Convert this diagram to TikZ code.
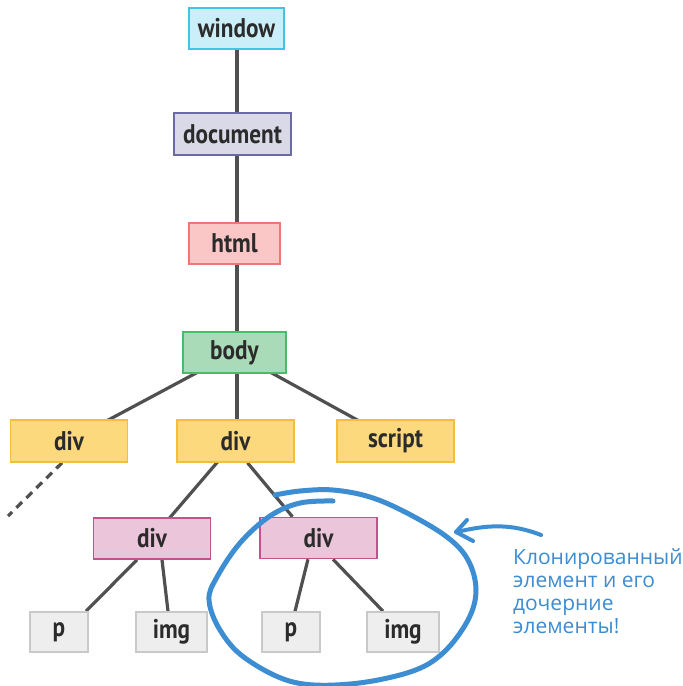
\documentclass[tikz,border=0pt]{standalone}
\usepackage{fontspec}
\setmainfont{PT Sans}
\newfontfamily\boxfont{PT Sans}[FakeStretch=0.86]
\newfontfamily\notefont{Open Sans}
\usetikzlibrary{backgrounds,calc}

\definecolor{winfill}{HTML}{CBEFF9}\definecolor{windraw}{HTML}{41C5E6}
\definecolor{docfill}{HTML}{D9D9E8}\definecolor{docdraw}{HTML}{6B6BA3}
\definecolor{htmlfill}{HTML}{FBC6C6}\definecolor{htmldraw}{HTML}{F07575}
\definecolor{bodyfill}{HTML}{A9DBB9}\definecolor{bodydraw}{HTML}{4DBA6A}
\definecolor{yfill}{HTML}{FCD97C}\definecolor{ydraw}{HTML}{F2BE3C}
\definecolor{pkfill}{HTML}{EBC6DA}\definecolor{pkdraw}{HTML}{C4518D}
\definecolor{gfill}{HTML}{EEEEEE}\definecolor{gdraw}{HTML}{C9C9C9}
\definecolor{edgecol}{HTML}{505050}
\definecolor{notecol}{HTML}{3C8DD2}
\definecolor{textcol}{HTML}{2B2B2B}

\tikzset{
  box/.style={draw, line width=1.6pt, minimum height=41pt, inner sep=0pt,
    font=\boxfont\fontsize{27}{30}\selectfont\bfseries, text=textcol},
  winbox/.style={box, fill=winfill, draw=windraw},
  docbox/.style={box, fill=docfill, draw=docdraw},
  htmlbox/.style={box, fill=htmlfill, draw=htmldraw},
  bodybox/.style={box, fill=bodyfill, draw=bodydraw},
  ybox/.style={box, fill=yfill, draw=ydraw, minimum width=117pt, minimum height=42pt},
  pkbox/.style={box, fill=pkfill, draw=pkdraw, minimum width=117pt},
  gbox/.style={box, fill=gfill, draw=gdraw, minimum height=40pt},
  edge/.style={draw=edgecol, line width=3.2pt},
  note/.style={draw=notecol, line width=5pt, line cap=round, line join=round},
}

\begin{document}
\begin{tikzpicture}[x=1pt, y=-1pt]
  \useasboundingbox (0,0) rectangle (683,686);

  % DOM tree nodes
  \node[winbox, minimum width=95pt] (window) at (236.5,28.5) {window};
  \node[docbox, minimum width=117pt, minimum height=42pt] (document) at (232.5,134) {document};
  \node[htmlbox, minimum width=91pt] (html) at (234.5,243.5) {html};
  \node[bodybox, minimum width=103pt] (body) at (234.5,352.5) {body};
  \node[ybox] (divA) at (69,441) {div};
  \node[ybox] (divB) at (235.5,441) {div};
  \node[ybox] (script) at (395.5,441) {script};
  \node[pkbox] (divC) at (152,538.5) {div};
  \node[pkbox] (divD) at (318.5,538) {div};
  \node[gbox, minimum width=58pt] (pA) at (59,632) {p};
  \node[gbox, minimum width=71pt] (imgA) at (171.5,632) {img};
  \node[gbox, minimum width=58pt] (pB) at (291,632) {p};
  \node[gbox, minimum width=72pt] (imgB) at (403,632) {img};
  \coordinate (more) at (8,516);

  % white page and tree edges, behind the boxes
  \begin{scope}[on background layer]
    \fill[white] (0,0) rectangle (683,686);
    \draw[edge] ($(window.center)+(0.5,0)$) -- ($(window.center |- document.center)+(0.5,0)$)
                -- ($(window.center |- html.center)+(0.5,0)$)
                -- ($(window.center |- body.center)+(0.5,0)$)
                -- ($(window.center |- divB.center)+(0.5,0)$);
    \draw[edge] (body.center) -- (divA.center);
    \draw[edge] (body.center) -- (script.center);
    \draw[edge] (divB.center) -- (divC.center);
    \draw[edge] ($(divB.south)+(12,0)$) -- ($(divD.north)+(-26,0)$);
    \draw[edge] ($(divC.south)+(-15,0)$) -- ($(pA.north)+(27,0)$);
    \draw[edge] ($(divC.south)+(10,0)$) -- ($(imgA.north)+(-3.5,0)$);
    \draw[edge] ($(divD.south)+(-10.5,0)$) -- ($(pB.north)+(4,0)$);
    \draw[edge] ($(divD.south)+(14.5,0)$) -- ($(imgB.north)+(-20,0)$);
    \draw[edge, dash pattern=on 8pt off 6pt] ($(divA.south)+(-7,0)$) -- (more);
  \end{scope}

  % hand-drawn loop round the cloned subtree
  \draw[note] plot[smooth, tension=0.6] coordinates {
    (333,501) (300,503) (270,516) (240,543) (217,577) (209,600) (220,630)
    (245,658) (293,682) (350,684) (410,672) (443,653) (468,620) (476,590)
    (468,560) (447,537) (407,513) (370,497) (333,490) (300,491) (275,495)};

  % pointer arrow and its caption
  \coordinate (arrtail) at (541,535);
  \coordinate (arrtip) at (456,532);
  \draw[note, line width=4pt] (arrtail) .. controls (505,521) and (480,527) .. (arrtip);
  \draw[note, line width=4pt] (467,520) -- (arrtip) -- (473,541);
  \node[anchor=base west, align=left, inner sep=0pt, text=notecol,
        font=\notefont\fontsize{21}{23}\selectfont] (caption) at (513,633)
    {Клонированный\\элемент и его\\дочерние\\элементы!};
\end{tikzpicture}
\end{document}
